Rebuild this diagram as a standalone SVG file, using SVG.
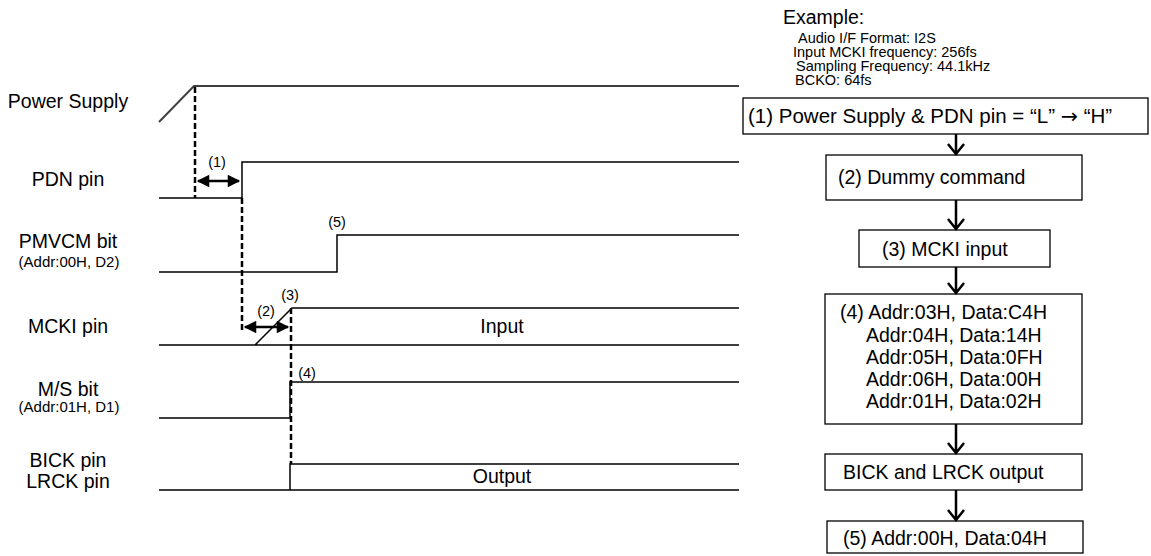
<svg xmlns="http://www.w3.org/2000/svg" width="1151" height="556" viewBox="0 0 1151 556">
<style>
text{font-family:"Liberation Sans",Arial,sans-serif;fill:#000}
.lbl{font-size:19.5px;text-anchor:middle}
.sub{font-size:15px;text-anchor:middle}
.num{font-size:14.5px;text-anchor:middle}
.box{font-size:19.5px}
.ex{font-size:14.5px}
.arw{font-family:"DejaVu Sans",sans-serif}
.sig{fill:none;stroke:#000;stroke-width:1.5}
.dash{fill:none;stroke:#000;stroke-width:2.5;stroke-dasharray:6,3}
.dim{fill:none;stroke:#000;stroke-width:2.5;marker-start:url(#tri);marker-end:url(#tri)}
.nd{fill:#fff;stroke:#000;stroke-width:1.3}
.flow{fill:none;stroke:#000;stroke-width:2.5}
</style>
<defs>
<marker id="tri" viewBox="0 0 10 10" refX="9" refY="5" markerWidth="6" markerHeight="5" orient="auto-start-reverse" markerUnits="strokeWidth">
<path d="M0,0 L10,5 L0,10 z" fill="#000"/>
</marker>
</defs>

<g id="labels">
<text class="lbl" x="68" y="108">Power Supply</text>
<text class="lbl" x="68" y="186">PDN pin</text>
<text class="lbl" x="68" y="248">PMVCM bit</text>
<text class="sub" x="69" y="267">(Addr:00H, D2)</text>
<text class="lbl" x="68" y="333">MCKI pin</text>
<text class="lbl" x="68" y="396">M/S bit</text>
<text class="sub" x="69" y="412">(Addr:01H, D1)</text>
<text class="lbl" x="68" y="467">BICK pin</text>
<text class="lbl" x="68" y="488">LRCK pin</text>
</g>

<g id="timing">
<path d="M159,122 L194,86 L739,86" fill="none" stroke="#404040" stroke-width="2"/>
<path class="sig" d="M159,198 L242,198 L242,162 L739,162"/>
<path class="sig" d="M159,272 L337,272 L337,235 L739,235"/>
<path class="sig" d="M159,345 L739,345 M255,345 L292,308 L739,308"/>
<path class="sig" d="M159,418 L290,418 L290,382 L739,382"/>
<path class="sig" d="M159,490 L739,490 M290,490 L290,464 L739,464"/>
<text class="lbl" x="502" y="333">Input</text>
<text class="lbl" x="502" y="483">Output</text>
<text class="num" x="217" y="167">(1)</text>
<text class="num" x="337" y="227">(5)</text>
<text class="num" x="266" y="316">(2)</text>
<text class="num" x="290" y="300">(3)</text>
<text class="num" x="307" y="378">(4)</text>
</g>

<g id="timing-marks">
<path class="dash" d="M195,87 L195,198"/>
<path class="dash" d="M242,198 L242,330"/>
<path class="dash" d="M291,308 L291,464"/>
<path class="dim" d="M198,181 L239,181"/>
<path class="dim" d="M245,327 L288,327"/>
</g>

<g id="example">
<text style="font-size:19.5px" x="783" y="24">Example:</text>
<text class="ex" x="798" y="43">Audio I/F Format: I2S</text>
<text class="ex" x="793" y="57">Input MCKI frequency: 256fs</text>
<text class="ex" x="796" y="71">Sampling Frequency: 44.1kHz</text>
<text class="ex" x="795" y="85">BCKO: 64fs</text>
</g>

<g id="step1">
<rect class="nd" x="743" y="98" width="405" height="36"/>
<text style="font-size:20.5px" x="748" y="123">(1) Power Supply &amp; PDN pin = “L” <tspan class="arw">→</tspan> “H”</text>
</g>
<g id="step2">
<rect class="nd" x="826" y="155" width="256" height="45"/>
<text class="box" x="838" y="184">(2) Dummy command</text>
</g>
<g id="step3">
<rect class="nd" x="859" y="230" width="191" height="37"/>
<text class="box" x="882" y="256">(3) MCKI input</text>
</g>
<g id="step4">
<rect class="nd" x="825" y="294" width="257" height="130"/>
<text class="box" x="840" y="319">(4) Addr:03H, Data:C4H</text>
<text class="box" x="866" y="342">Addr:04H, Data:14H</text>
<text class="box" x="866" y="364">Addr:05H, Data:0FH</text>
<text class="box" x="866" y="386">Addr:06H, Data:00H</text>
<text class="box" x="866" y="408">Addr:01H, Data:02H</text>
</g>
<g id="step5">
<rect class="nd" x="825" y="454" width="257" height="36"/>
<text class="box" x="843" y="479">BICK and LRCK output</text>
</g>
<g id="step6">
<rect class="nd" x="827" y="521" width="256" height="32"/>
<text class="box" x="843" y="545">(5) Addr:00H, Data:04H</text>
</g>

<g id="connectors">
<path class="flow" d="M956,134 L956,154 M948,144 L956,154 L964,144"/>
<path class="flow" d="M956,200 L956,229 M948,219 L956,229 L964,219"/>
<path class="flow" d="M956,267 L956,293 M948,283 L956,293 L964,283"/>
<path class="flow" d="M956,424 L956,453 M948,443 L956,453 L964,443"/>
<path class="flow" d="M956,490 L956,520 M948,510 L956,520 L964,510"/>
</g>
</svg>
